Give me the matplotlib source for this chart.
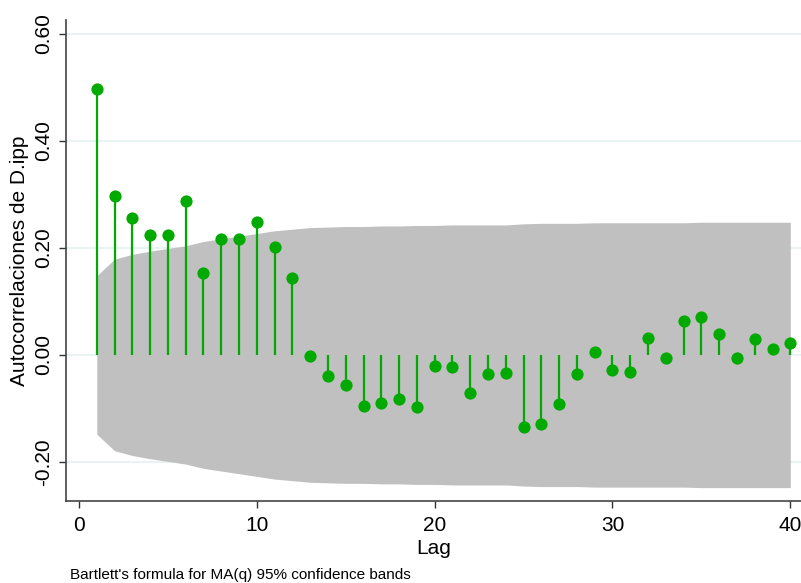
import matplotlib
matplotlib.use("Agg")
import matplotlib.pyplot as plt
import numpy as np

plt.rcParams['font.family'] = ['Liberation Sans', 'DejaVu Sans']

lags = list(range(1, 41))
acf = [0.497, 0.297, 0.256, 0.224, 0.225, 0.287, 0.154, 0.217, 0.217, 0.249,
       0.202, 0.143, -0.002, -0.040, -0.056, -0.095, -0.090, -0.082, -0.098, -0.020,
       -0.023, -0.072, -0.036, -0.033, -0.134, -0.129, -0.092, -0.035, 0.005, -0.029,
       -0.032, 0.031, -0.006, 0.064, 0.070, 0.039, -0.006, 0.029, 0.012, 0.022]
band = [0.148, 0.179, 0.188, 0.194, 0.199, 0.204, 0.212, 0.217, 0.222, 0.227,
        0.232, 0.235, 0.238, 0.239, 0.240, 0.240, 0.241, 0.241, 0.242, 0.242,
        0.243, 0.243, 0.243, 0.243, 0.245, 0.246, 0.246, 0.246, 0.247, 0.247,
        0.247, 0.247, 0.247, 0.247, 0.248, 0.248, 0.248, 0.248, 0.248, 0.248]
yticks = [-0.20, 0.00, 0.20, 0.40, 0.60]
ytick_labels = ["-0.20", "0.00", "0.20", "0.40", "0.60"]
xticks = [0, 10, 20, 30, 40]

W, H = 801, 583
fig = plt.figure(figsize=(W / 100, H / 100), dpi=100)
ax = fig.add_axes([66 / W, (H - 501) / H, (W - 66) / W, (501 - 20) / H])

green = '#00aa00'
band_arr = np.array(band)
ax.fill_between(lags, -band_arr, band_arr, color='#c0c0c0', linewidth=0, zorder=1)

ax.vlines(lags, 0, acf, color=green, linewidth=1.6, zorder=3)
ax.plot(lags, acf, 'o', color=green, markersize=8.8, markeredgewidth=0, zorder=4)

ax.set_xlim(-0.73, 40.6)
ax.set_ylim(-0.273, 0.626)

for yv in yticks:
    ax.axhline(yv, color='#eaf2f3', linewidth=1.5, zorder=0)

ax.set_yticks(yticks)
ax.set_yticklabels(ytick_labels, rotation=90, va='center', fontsize=15)
ax.set_xticks(xticks)
ax.set_xticklabels([str(v) for v in xticks], fontsize=15)
ax.tick_params(axis='both', direction='out', length=5, width=1.0, color='#333333',
               labelcolor='black')
ax.tick_params(axis='y', pad=4)
ax.tick_params(axis='x', pad=6)

for side in ['top', 'right']:
    ax.spines[side].set_visible(False)
for side in ['left', 'bottom']:
    ax.spines[side].set_color('#444444')
    ax.spines[side].set_linewidth(1.2)

fig.text(20 / W, 1 - 261 / H, "Autocorrelaciones de D.ipp", rotation=90,
         ha='center', va='center', fontsize=15)
fig.text(434 / W, 1 - 548 / H, "Lag", ha='center', va='center', fontsize=15)
fig.text(70 / W, 1 - 575 / H, "Bartlett's formula for MA(q) 95% confidence bands",
         ha='left', va='center', fontsize=11)

fig.savefig("out.png", dpi=100)
